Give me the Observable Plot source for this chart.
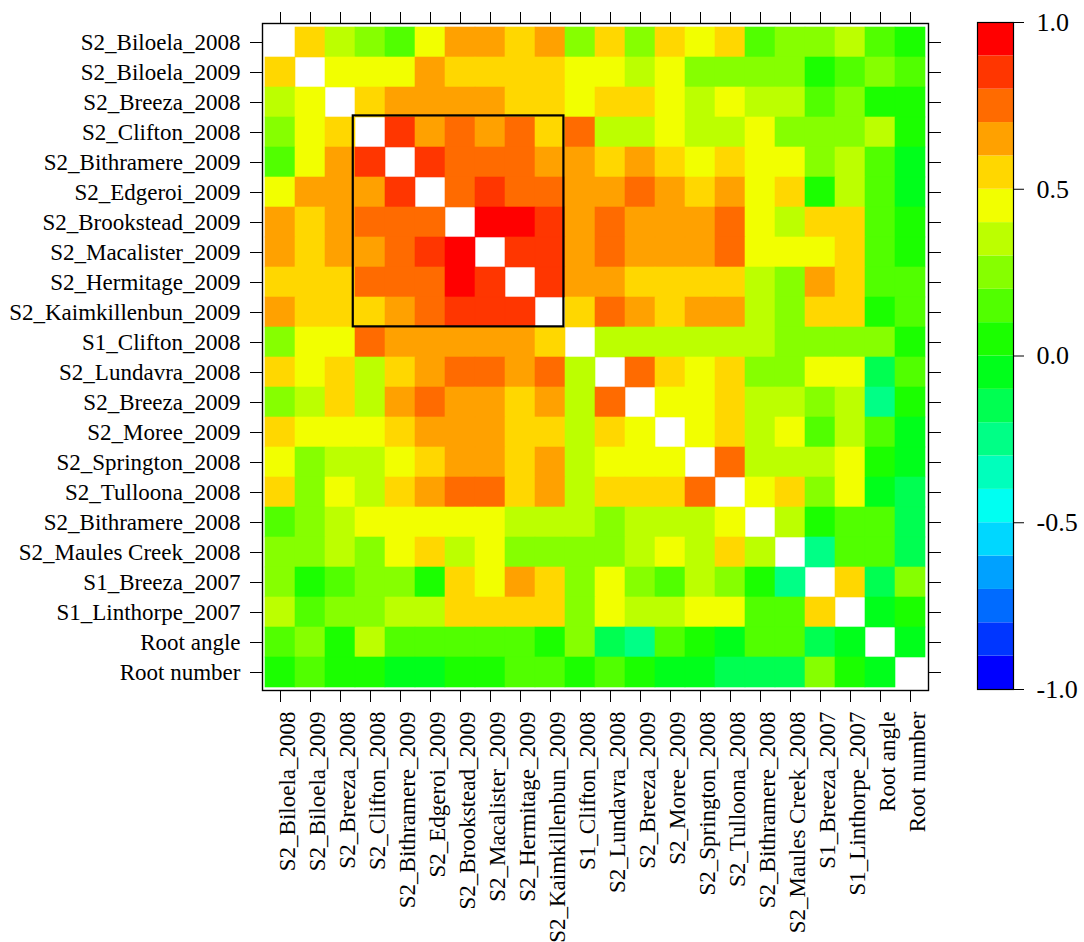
<!DOCTYPE html>
<html>
<head>
<meta charset="utf-8">
<script src="https://cdn.jsdelivr.net/npm/d3@7"></script>
<script src="https://cdn.jsdelivr.net/npm/@observablehq/plot@0.6"></script>
<style>
  body { margin: 0; background: #fff; }
  #wrap { position: relative; width: 1084px; height: 942px; }
  #wrap svg { position: absolute; top: 0; }
</style>
</head>
<body>
<div id="wrap"></div>
<script>
// ---- data ----
const traits = [
  "S2_Biloela_2008", "S2_Biloela_2009", "S2_Breeza_2008", "S2_Clifton_2008",
  "S2_Bithramere_2009", "S2_Edgeroi_2009", "S2_Brookstead_2009", "S2_Macalister_2009",
  "S2_Hermitage_2009", "S2_Kaimkillenbun_2009", "S1_Clifton_2008", "S2_Lundavra_2008",
  "S2_Breeza_2009", "S2_Moree_2009", "S2_Springton_2008", "S2_Tulloona_2008",
  "S2_Bithramere_2008", "S2_Maules Creek_2008", "S1_Breeza_2007", "S1_Linthorpe_2007",
  "Root angle", "Root number"
];

// correlation matrix (rows and columns in the order of `traits`; diagonal left blank)
const corrRows = [
  [null,0.55,0.35,0.25,0.15,0.45,0.65,0.65,0.55,0.65,0.25,0.55,0.25,0.55,0.45,0.55,0.15,0.25,0.25,0.35,0.15,0.05],
  [0.55,null,0.45,0.45,0.45,0.65,0.55,0.55,0.55,0.55,0.45,0.45,0.35,0.45,0.25,0.25,0.25,0.25,0.05,0.15,0.25,0.15],
  [0.35,0.45,null,0.55,0.65,0.65,0.65,0.65,0.55,0.55,0.45,0.55,0.55,0.45,0.35,0.45,0.35,0.35,0.15,0.25,0.05,0.05],
  [0.25,0.45,0.55,null,0.85,0.65,0.75,0.65,0.75,0.55,0.75,0.35,0.35,0.45,0.35,0.35,0.45,0.25,0.25,0.25,0.35,0.05],
  [0.15,0.45,0.65,0.85,null,0.85,0.75,0.75,0.75,0.65,0.65,0.55,0.65,0.55,0.45,0.55,0.45,0.45,0.25,0.35,0.15,-0.05],
  [0.45,0.65,0.65,0.65,0.85,null,0.75,0.85,0.75,0.75,0.65,0.65,0.75,0.65,0.55,0.65,0.45,0.55,0.05,0.35,0.15,-0.05],
  [0.65,0.55,0.65,0.75,0.75,0.75,null,0.95,0.95,0.85,0.65,0.75,0.65,0.65,0.65,0.75,0.45,0.35,0.55,0.55,0.15,0.05],
  [0.65,0.55,0.65,0.65,0.75,0.85,0.95,null,0.85,0.85,0.65,0.75,0.65,0.65,0.65,0.75,0.45,0.45,0.45,0.55,0.15,0.05],
  [0.55,0.55,0.55,0.75,0.75,0.75,0.95,0.85,null,0.85,0.65,0.65,0.55,0.55,0.55,0.55,0.35,0.25,0.65,0.55,0.15,0.15],
  [0.65,0.55,0.55,0.55,0.65,0.75,0.85,0.85,0.85,null,0.55,0.75,0.65,0.55,0.65,0.65,0.35,0.25,0.55,0.55,0.05,0.15],
  [0.25,0.45,0.45,0.75,0.65,0.65,0.65,0.65,0.65,0.55,null,0.35,0.35,0.35,0.35,0.35,0.35,0.25,0.25,0.25,0.25,0.05],
  [0.55,0.45,0.55,0.35,0.55,0.65,0.75,0.75,0.65,0.75,0.35,null,0.75,0.55,0.45,0.55,0.25,0.25,0.45,0.45,-0.15,0.15],
  [0.25,0.35,0.55,0.35,0.65,0.75,0.65,0.65,0.55,0.65,0.35,0.75,null,0.45,0.45,0.55,0.35,0.35,0.25,0.35,-0.25,0.05],
  [0.55,0.45,0.45,0.45,0.55,0.65,0.65,0.65,0.55,0.55,0.35,0.55,0.45,null,0.45,0.55,0.35,0.45,0.15,0.35,0.15,-0.05],
  [0.45,0.25,0.35,0.35,0.45,0.55,0.65,0.65,0.55,0.65,0.35,0.45,0.45,0.45,null,0.75,0.35,0.35,0.35,0.45,0.05,-0.05],
  [0.55,0.25,0.45,0.35,0.55,0.65,0.75,0.75,0.55,0.65,0.35,0.55,0.55,0.55,0.75,null,0.45,0.55,0.25,0.45,-0.05,-0.15],
  [0.15,0.25,0.35,0.45,0.45,0.45,0.45,0.45,0.35,0.35,0.35,0.25,0.35,0.35,0.35,0.45,null,0.35,0.05,0.15,0.15,-0.15],
  [0.25,0.25,0.35,0.25,0.45,0.55,0.35,0.45,0.25,0.25,0.25,0.25,0.35,0.45,0.35,0.55,0.35,null,-0.25,0.15,0.15,-0.15],
  [0.25,0.05,0.15,0.25,0.25,0.05,0.55,0.45,0.65,0.55,0.25,0.45,0.25,0.15,0.35,0.25,0.05,-0.25,null,0.55,-0.15,0.25],
  [0.35,0.15,0.25,0.25,0.35,0.35,0.55,0.55,0.55,0.55,0.25,0.45,0.35,0.35,0.45,0.45,0.15,0.15,0.55,null,-0.05,0.05],
  [0.15,0.25,0.05,0.35,0.15,0.15,0.15,0.15,0.15,0.05,0.25,-0.15,-0.25,0.15,0.05,-0.05,0.15,0.15,-0.15,-0.05,null,-0.05],
  [0.05,0.15,0.05,0.05,-0.05,-0.05,0.05,0.05,0.15,0.15,0.05,0.15,0.05,-0.05,-0.05,-0.15,-0.15,-0.15,0.25,0.05,-0.05,null]
];

// colour key: 20 equal bins from -1 to 1
const colorBreaks = [-0.9,-0.8,-0.7,-0.6,-0.5,-0.4,-0.3,-0.2,-0.1,0,0.1,0.2,0.3,0.4,0.5,0.6,0.7,0.8,0.9];
const colorPalette = [
  "#0000FF","#0036FF","#006BFF","#00A1FF","#00D7FF",
  "#00FFF2","#00FFBC","#00FF86","#00FF51","#00FF1B",
  "#1BFF00","#51FF00","#86FF00","#BCFF00","#F2FF00",
  "#FFD700","#FFA100","#FF6B00","#FF3600","#FF0000"
];
const legendBreaks = [-1,-0.9,-0.8,-0.7,-0.6,-0.5,-0.4,-0.3,-0.2,-0.1,0,0.1,0.2,0.3,0.4,0.5,0.6,0.7,0.8,0.9,1];
const legendTicks = [-1, -0.5, 0, 0.5, 1];
const highlightBlock = ["S2_Clifton_2008", "S2_Kaimkillenbun_2009"];

// ---- build ----
const cells = [];
traits.forEach((r, i) => traits.forEach((c, j) => {
  const v = corrRows[i][j];
  if (v != null) cells.push({row: r, col: c, v});
}));

const font = "'Liberation Serif','Times New Roman',Times,serif";

const heat = Plot.plot({
  width: 1084, height: 942,
  marginLeft: 264, marginRight: 158, marginTop: 25, marginBottom: 254,
  style: {fontFamily: font, fontSize: "23px", color: "black", background: "transparent"},
  x: {type: "band", domain: traits, padding: 0, label: null, axis: null},
  y: {type: "band", domain: traits, padding: 0, label: null, axis: null},
  color: {type: "threshold", domain: colorBreaks, range: colorPalette},
  marks: [
    Plot.cell(cells, {x: "col", y: "row", fill: "v", stroke: "v", strokeWidth: 0.6}),
    Plot.frame({stroke: "black", strokeWidth: 1.4, inset: -2}),
    Plot.axisY({anchor: "left", tickSize: 12, dx: -2, tickPadding: 10, fontSize: 23, label: null}),
    Plot.axisY({anchor: "right", tickSize: 12, dx: 2, fill: "none", label: null}),
    Plot.axisX({anchor: "top", tickSize: 12, dy: -2, fill: "none", label: null}),
    Plot.axisX({anchor: "bottom", tickSize: 12, dy: 2, fill: "none", label: null}),
    Plot.axisX({anchor: "bottom", tickSize: 0, tickPadding: 23, dx: 7, tickRotate: -90, fontSize: 23, label: null})
  ]
});

// highlight block outline, positioned with the plot's own band scales
const sx = heat.scale("x"), sy = heat.scale("y");
function bandOf(s) {
  return d3.scaleBand().domain(s.domain).range(s.range)
    .paddingInner(s.paddingInner ?? 0).paddingOuter(s.paddingOuter ?? 0).align(s.align ?? 0.5);
}
const bx = bandOf(sx), by = bandOf(sy);
const [h0, h1] = highlightBlock;
d3.select(heat).append("rect")
  .attr("x", bx(h0) - 1.5).attr("y", by(h0))
  .attr("width", bx(h1) + bx.bandwidth() - bx(h0))
  .attr("height", by(h1) + by.bandwidth() - by(h0))
  .attr("fill", "none").attr("stroke", "black").attr("stroke-width", 2.2);

// colour key
const legendBins = legendBreaks.slice(0, -1).map((lo, i) => ({lo, hi: legendBreaks[i + 1], color: colorPalette[i]}));
const bar = Plot.plot({
  width: 124, height: 942,
  marginLeft: 17, marginRight: 71, marginTop: 22, marginBottom: 253,
  style: {fontFamily: font, color: "black", background: "transparent"},
  x: {axis: null},
  y: {domain: [-1, 1], axis: null},
  marks: [
    Plot.rect(legendBins, {y1: "lo", y2: "hi", fill: "color"}),
    Plot.frame({stroke: "black", strokeWidth: 1.2}),
    Plot.axisY({anchor: "right", ticks: legendTicks, tickSize: 10, tickPadding: 13,
      tickFormat: d => d.toFixed(1), fontSize: 26, label: null})
  ]
});
bar.style.left = "960px";

const wrap = document.getElementById("wrap");
heat.style.left = "0px";
wrap.appendChild(heat);
wrap.appendChild(bar);
</script>
</body>
</html>
